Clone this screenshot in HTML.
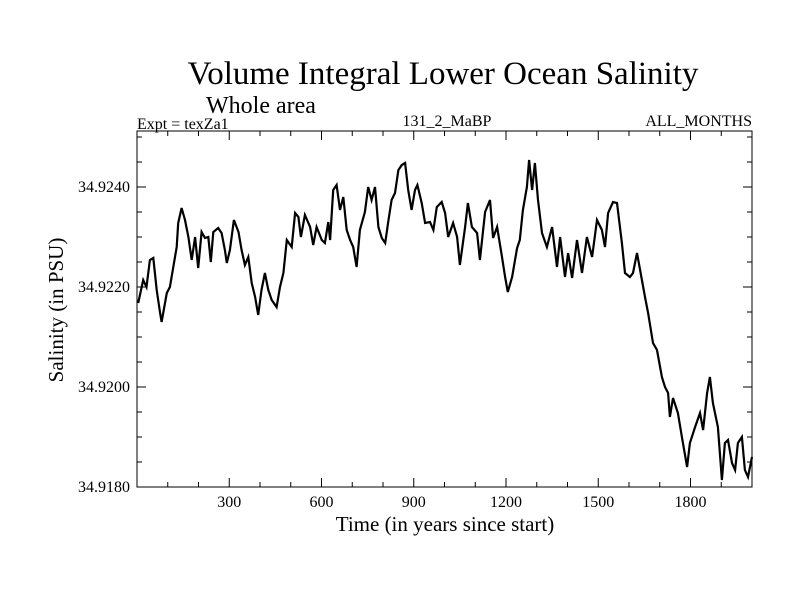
<!DOCTYPE html>
<html><head><meta charset="utf-8"><style>
html,body{margin:0;padding:0;background:#fff;}
svg{display:block;font-family:"Liberation Serif",serif;}
</style></head><body>
<svg id="chart" width="800" height="600" viewBox="0 0 800 600">
<rect width="800" height="600" fill="#fff"/>
<text x="443" y="84" font-size="33" text-anchor="middle">Volume Integral Lower Ocean Salinity</text>
<text x="206" y="113" font-size="24">Whole area</text>
<text x="137" y="129" font-size="16">Expt = texZa1</text>
<text x="447" y="126" font-size="16" text-anchor="middle">131_2_MaBP</text>
<text x="752" y="126" font-size="16" text-anchor="end">ALL_MONTHS</text>
<text x="445" y="531" font-size="21" text-anchor="middle">Time (in years since start)</text>
<text transform="translate(63,310) rotate(-90)" font-size="21" text-anchor="middle">Salinity (in PSU)</text>
<g id="axes"></g>
<g id="series"></g>
<rect x="137" y="131" width="615" height="356" fill="none" stroke="#000" stroke-width="1"/>
</svg>
<script>
const years = [4,20,31,42,53,64,75,80,97,107,118,129,134,145,156,167,178,189,199,210,221,232,240,248,264,275,286,292,302,315,330,340,351,362,373,384,394,405,416,427,438,454,465,476,487,503,514,525,533,546,563,573,584,601,611,622,628,638,649,660,671,682,693,703,714,725,741,752,763,774,785,796,807,817,828,839,850,861,872,882,893,904,912,926,937,953,964,975,991,1002,1012,1028,1041,1050,1067,1076,1089,1106,1115,1132,1148,1158,1171,1187,1197,1206,1220,1236,1245,1255,1268,1275,1285,1294,1304,1317,1333,1350,1366,1376,1392,1402,1415,1431,1447,1463,1480,1496,1512,1522,1532,1548,1561,1577,1587,1603,1613,1626,1636,1652,1662,1678,1691,1707,1717,1727,1733,1743,1759,1772,1789,1798,1815,1831,1841,1854,1863,1873,1889,1902,1912,1922,1935,1945,1954,1967,1977,1987,2000];
const salinity = [34.92168,34.92214,34.922,34.92254,34.92258,34.92194,34.92148,34.9213,34.92188,34.922,34.9224,34.9228,34.92328,34.92358,34.92334,34.923,34.92254,34.923,34.92238,34.9231,34.92298,34.923,34.9225,34.9231,34.92318,34.92308,34.92274,34.92248,34.92274,34.92334,34.9231,34.92274,34.92244,34.9226,34.92208,34.9218,34.92144,34.92194,34.92228,34.92194,34.92174,34.9216,34.922,34.92228,34.92294,34.9228,34.92348,34.9234,34.923,34.92344,34.9232,34.92284,34.9232,34.92294,34.92288,34.9233,34.92294,34.92394,34.92404,34.92354,34.9238,34.92314,34.92294,34.9228,34.9224,34.92314,34.9235,34.924,34.92374,34.924,34.9232,34.92298,34.92288,34.9233,34.92374,34.92388,34.92434,34.92444,34.92448,34.92394,34.92354,34.92394,34.92404,34.92368,34.92328,34.9233,34.92314,34.9236,34.9237,34.92348,34.923,34.92328,34.923,34.92244,34.9232,34.92368,34.9232,34.92308,34.92254,34.9235,34.92374,34.92298,34.9232,34.9226,34.9222,34.9219,34.9222,34.92278,34.92294,34.92354,34.924,34.92454,34.92394,34.92448,34.92374,34.92308,34.9228,34.9232,34.9224,34.923,34.9222,34.92268,34.92218,34.92294,34.92228,34.923,34.9226,34.92334,34.92314,34.9228,34.92348,34.9237,34.92368,34.92288,34.92228,34.9222,34.92228,34.92268,34.92234,34.9218,34.92148,34.92088,34.92074,34.9202,34.92,34.91988,34.9194,34.91978,34.91948,34.919,34.9184,34.91888,34.9192,34.91948,34.91914,34.91988,34.9202,34.91968,34.9192,34.91814,34.91888,34.91894,34.91848,34.91834,34.91888,34.919,34.91834,34.9182,34.9186];
const xTickLabels = [300,600,900,1200,1500,1800];
const yTickLabels = ["34.9180","34.9200","34.9220","34.9240"];

const L=137,R=752,T=131,B=487, X0=0,X1=2000, Y0=34.918, Y1=34.92512;
const sx=v=>L+(v-X0)/(X1-X0)*(R-L);
const sy=v=>B-(v-Y0)/(Y1-Y0)*(B-T);
const NS="http://www.w3.org/2000/svg";
const axes=document.getElementById('axes');
function mk(tag,attrs,parent){const e=document.createElementNS(NS,tag);for(const k in attrs)e.setAttribute(k,attrs[k]);parent.appendChild(e);return e;}
for(let yr=100;yr<2000;yr+=100){
  const major=yr%300===0, len=major?9:5;
  const t=mk('line',{x1:sx(yr),x2:sx(yr),y1:B,y2:B-len,stroke:'#000'},axes);
  
  
  const t2=mk('line',{x1:sx(yr),x2:sx(yr),y1:T,y2:T+len,stroke:'#000'},axes);
  
  
}
xTickLabels.forEach(v=>{
  const t=mk('text',{x:sx(v),y:507,'font-size':16,'text-anchor':'middle'},axes);
  t.textContent=v;
  
  
});
for(let i=0;i<=14;i++){
  const v=34.918+i*0.0005, major=i%4===0, len=major?9:5, y=sy(v);
  const t=mk('line',{x1:L,x2:L+len,y1:y,y2:y,stroke:'#000'},axes);
  
  
  const t2=mk('line',{x1:R,x2:R-len,y1:y,y2:y,stroke:'#000'},axes);
  
  
}
yTickLabels.forEach(s=>{
  const t=mk('text',{x:130,y:sy(parseFloat(s))+5,'font-size':16,'text-anchor':'end'},axes);
  t.textContent=s;
  
  
});
const pts=years.map((yr,i)=>sx(yr).toFixed(1)+','+sy(salinity[i]).toFixed(1)).join(' ');
const line=mk('polyline',{points:pts,fill:'none',stroke:'#000','stroke-width':2.2,'stroke-linejoin':'miter'},document.getElementById('series'));


</script>
</body></html>
